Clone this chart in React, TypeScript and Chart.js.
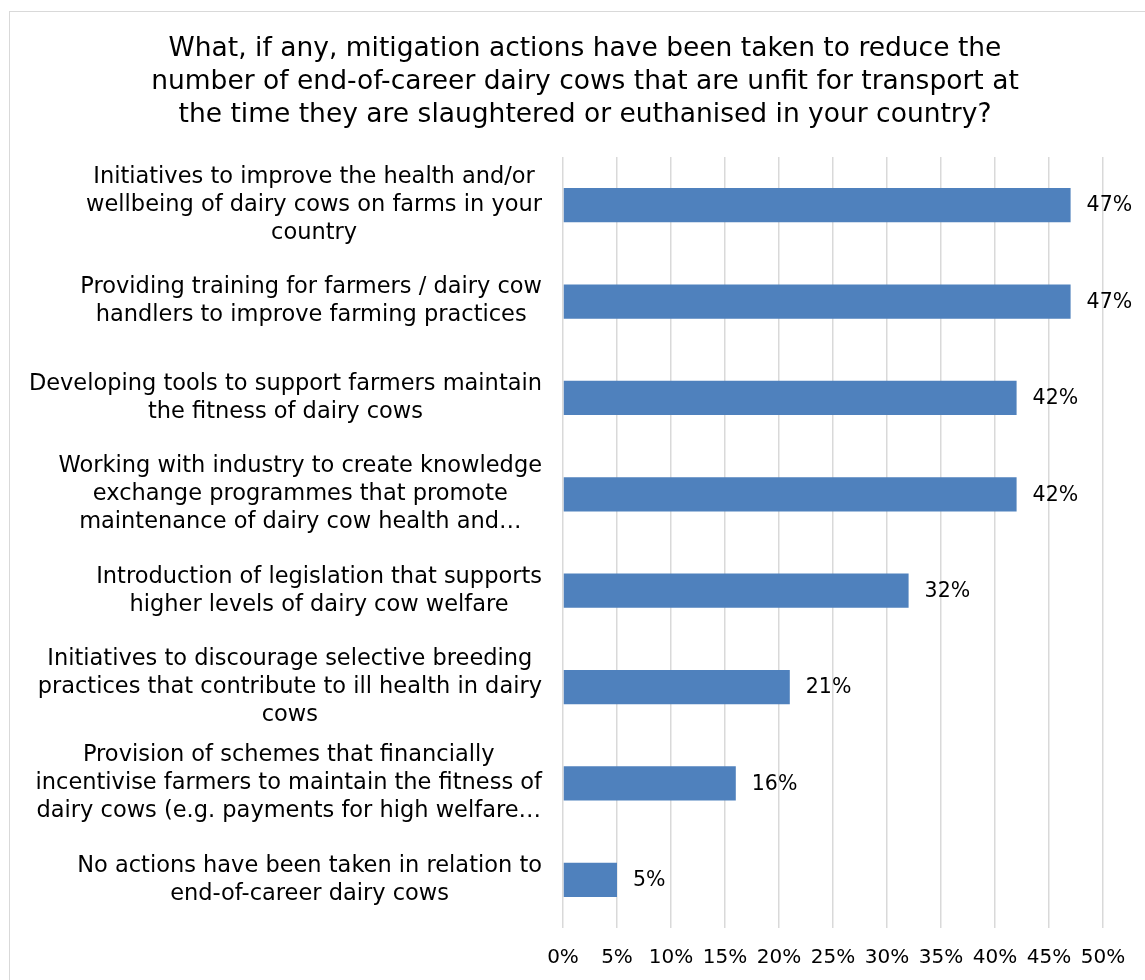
import React, { useEffect, useRef } from "react";
import { Chart, registerables } from "chart.js";

Chart.register(...registerables);

const titleLines = [
  "What, if any, mitigation actions have been taken to reduce the",
  "number of end-of-career dairy cows that are unfit for transport at",
  "the time they are slaughtered or euthanised in your country?",
];

const categories: string[][] = [
  ["Initiatives to improve the health and/or", "wellbeing of dairy cows on farms in your", "country"],
  ["Providing training for farmers / dairy cow", "handlers to improve farming practices"],
  ["Developing tools to support farmers maintain", "the fitness of dairy cows"],
  ["Working with industry to create knowledge", "exchange programmes that promote", "maintenance of dairy cow health and…"],
  ["Introduction of legislation that supports", "higher levels of dairy cow welfare"],
  ["Initiatives to discourage selective breeding", "practices that contribute to ill health in dairy", "cows"],
  ["Provision of schemes that financially", "incentivise farmers to maintain the fitness of", "dairy cows (e.g. payments for high welfare…"],
  ["No actions have been taken in relation to", "end-of-career dairy cows"],
];

const percentValues = [47, 47, 42, 42, 32, 21, 16, 5];

const xTickValues = [0, 5, 10, 15, 20, 25, 30, 35, 40, 45, 50];

const FONT = "'DejaVu Sans', Verdana, sans-serif";
const LABEL_FONT_SIZE = 22.5;
const LABEL_LINE_HEIGHT = 28;
const LABEL_PAD = 21;

const valueLabelPlugin = {
  id: "valueLabels",
  afterDatasetsDraw(chart: any) {
    const ctx = chart.ctx;
    const meta = chart.getDatasetMeta(0);
    ctx.save();
    ctx.font = `20.5px ${FONT}`;
    ctx.fillStyle = "#000000";
    ctx.textAlign = "left";
    ctx.textBaseline = "middle";
    meta.data.forEach((bar: any, i: number) => {
      ctx.fillText(`${percentValues[i]}%`, bar.x + 16, bar.y + 1);
    });
    ctx.restore();
  },
};

// Category labels: each wrapped block is centred on itself and the block is right-aligned to the axis
const categoryLabelPlugin = {
  id: "categoryLabels",
  afterDraw(chart: any) {
    const ctx = chart.ctx;
    const yScale = chart.scales.y;
    ctx.save();
    ctx.font = `${LABEL_FONT_SIZE}px ${FONT}`;
    ctx.fillStyle = "#000000";
    ctx.textAlign = "center";
    ctx.textBaseline = "middle";
    categories.forEach((lines, i) => {
      const yc = yScale.getPixelForTick(i);
      const blockWidth = Math.max(...lines.map((l) => ctx.measureText(l).width));
      const xc = yScale.right - LABEL_PAD - blockWidth / 2;
      const top = yc - ((lines.length - 1) * LABEL_LINE_HEIGHT) / 2;
      lines.forEach((line, j) => {
        ctx.fillText(line, xc, top + j * LABEL_LINE_HEIGHT);
      });
    });
    ctx.restore();
  },
};

export default function App() {
  const canvasRef = useRef<HTMLCanvasElement | null>(null);

  useEffect(() => {
    if (!canvasRef.current) return;
    Chart.defaults.font.family = FONT;
    const chart = new Chart(canvasRef.current, {
      type: "bar",
      data: {
        labels: categories,
        datasets: [
          {
            data: percentValues,
            backgroundColor: "#4f81bd",
            borderWidth: 0,
            barPercentage: 0.355,
            categoryPercentage: 1,
          },
        ],
      },
      options: {
        indexAxis: "y",
        animation: false,
        responsive: false,
        maintainAspectRatio: false,
        devicePixelRatio: 1,
        layout: { padding: { left: 58, right: 58, top: 0, bottom: 10 } },
        plugins: {
          legend: { display: false },
          tooltip: { enabled: false },
          title: {
            display: true,
            text: titleLines,
            color: "#000000",
            font: { size: 26.5, family: FONT, weight: "normal", lineHeight: 1.245 },
            padding: { top: 22, bottom: 25 },
          },
        },
        scales: {
          x: {
            type: "linear",
            min: 0,
            max: 50,
            afterBuildTicks(scale: any) {
              scale.ticks = xTickValues.map((v) => ({ value: v }));
            },
            ticks: {
              autoSkip: false,
              maxRotation: 0,
              minRotation: 0,
              padding: 18,
              color: "#000000",
              font: { size: 20, family: FONT },
              callback: (v: any) => `${v}%`,
            },
            grid: { color: "#d9d9d9", lineWidth: 1.5, drawTicks: false },
            border: { display: false },
          },
          y: {
            afterFit(scale: any) {
              scale.width = 496;
            },
            ticks: {
              display: false,
              autoSkip: false,
            },
            grid: { display: false, drawTicks: false },
            border: { display: false },
          },
        },
      },
      plugins: [valueLabelPlugin, categoryLabelPlugin],
    });
    return () => chart.destroy();
  }, []);

  return (
    <div style={{ position: "absolute", left: 0, top: 0, width: 1145, height: 980, overflow: "hidden", background: "#ffffff" }}>
      <div style={{ position: "absolute", left: 9, top: 11, width: 1200, height: 1000, border: "1px solid #d9d9d9", boxSizing: "border-box" }} />
      <canvas ref={canvasRef} width={1152} height={987} style={{ position: "absolute", left: 9, top: 11, width: 1152, height: 987 }} />
    </div>
  );
}
